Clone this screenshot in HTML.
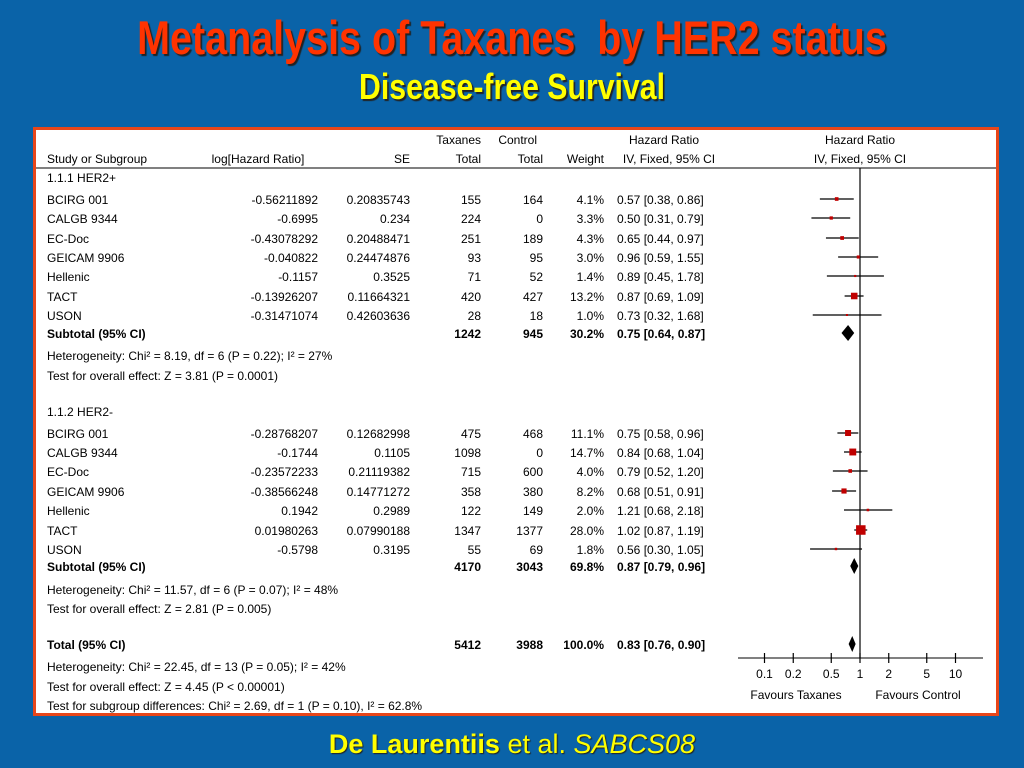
<!DOCTYPE html>
<html><head><meta charset="utf-8"><style>
body{margin:0;width:1024px;height:768px;overflow:hidden;background:#0a63a8;font-family:"Liberation Sans",sans-serif;position:relative}
.t{position:absolute;white-space:nowrap}
#title{left:0;width:1024px;text-align:center;top:10px;font-size:47px;font-weight:bold;color:#ff3300;text-shadow:2px 2px 1px #222;transform:scaleX(0.84)}
#sub{left:0;width:1024px;text-align:center;top:66px;font-size:36px;font-weight:bold;color:#ffff00;text-shadow:2px 2px 1px #222;transform:scaleX(0.84)}
#panel{position:absolute;left:33px;top:127px;width:960px;height:583px;background:#fff;border:3px solid #e8461a}
#foot{left:0;width:1024px;text-align:center;top:729px;font-size:27px;color:#ffff00;text-shadow:1px 1px 1px #222}
svg text{font-family:"Liberation Sans",sans-serif;font-size:12px;fill:#000}
</style></head><body>
<div class="t" id="title">Metanalysis of Taxanes&nbsp; by HER2 status</div>
<div class="t" id="sub">Disease-free Survival</div>
<div id="panel"></div>
<svg id="plot" width="1024" height="768" style="position:absolute;left:0;top:0"></svg>
<div class="t" id="foot"><b>De Laurentiis</b> et al. <i>SABCS08</i></div>
<script>
const studies=["BCIRG 001","CALGB 9344","EC-Doc","GEICAM 9906","Hellenic","TACT","USON","BCIRG 001","CALGB 9344","EC-Doc","GEICAM 9906","Hellenic","TACT","USON"];
const logHR=["-0.56211892","-0.6995","-0.43078292","-0.040822","-0.1157","-0.13926207","-0.31471074","-0.28768207","-0.1744","-0.23572233","-0.38566248","0.1942","0.01980263","-0.5798"];
const seVals=["0.20835743","0.234","0.20488471","0.24474876","0.3525","0.11664321","0.42603636","0.12682998","0.1105","0.21119382","0.14771272","0.2989","0.07990188","0.3195"];
const taxN=[155,224,251,93,71,420,28,475,1098,715,358,122,1347,55];
const ctrlN=[164,0,189,95,52,427,18,468,0,600,380,149,1377,69];
const weights=[4.1,3.3,4.3,3.0,1.4,13.2,1.0,11.1,14.7,4.0,8.2,2.0,28.0,1.8];
const hr=[0.57,0.50,0.65,0.96,0.89,0.87,0.73,0.75,0.84,0.79,0.68,1.21,1.02,0.56];
const lo=[0.38,0.31,0.44,0.59,0.45,0.69,0.32,0.58,0.68,0.52,0.51,0.68,0.87,0.30];
const hi=[0.86,0.79,0.97,1.55,1.78,1.09,1.68,0.96,1.04,1.20,0.91,2.18,1.19,1.05];
const sumLabels=["Subtotal (95% CI)","Subtotal (95% CI)","Total (95% CI)"];
const sumTax=[1242,4170,5412], sumCtrl=[945,3043,3988], sumW=["30.2%","69.8%","100.0%"];
const sumHR=[0.75,0.87,0.83], sumLo=[0.64,0.79,0.76], sumHi=[0.87,0.96,0.90];
const ticks=[0.1,0.2,0.5,1,2,5,10];
const NS="http://www.w3.org/2000/svg", svg=document.getElementById('plot');
const xs=v=>860+95.5*Math.log10(v);
function el(tag,attrs,txt){const e=document.createElementNS(NS,tag);for(const k in attrs)e.setAttribute(k,attrs[k]);if(txt!=null)e.textContent=txt;svg.appendChild(e);return e;}
function txt(x,y,s,anchor,bold,name){const e=el('text',{x:x,y:y,'text-anchor':anchor||'start','font-weight':bold?'bold':'normal'},s);

return e;}
const f2=v=>v.toFixed(2);
txt(481,144,"Taxanes","end",false,"header-taxanes");txt(537,144,"Control","end",false,"header-control");
txt(664,144,"Hazard Ratio","middle",false,"header-hr");txt(860,144,"Hazard Ratio","middle",false,"header-hr-plot");
txt(47,163,"Study or Subgroup","start",false,"header-study");txt(258,163,"log[Hazard Ratio]","middle",false,"header-loghr");
txt(410,163,"SE","end",false,"header-se");txt(481,163,"Total","end",false,"header-total");txt(543,163,"Total","end",false,"header-total");
txt(604,163,"Weight","end",false,"header-weight");txt(669,163,"IV, Fixed, 95% CI","middle",false,"header-ci");txt(860,163,"IV, Fixed, 95% CI","middle",false,"header-ci-plot");
let hl=el('line',{x1:36,x2:996,y1:168,y2:168,stroke:'#000','stroke-width':1});


txt(47,182,"1.1.1 HER2+","start",false,"group-heading");
txt(47,416,"1.1.2 HER2-","start",false,"group-heading");
const rowY=[204,223,243,262,281,301,320,438,457,476,496,515,535,554];
const sumY=[338,571,649];
let nl=el('line',{x1:860,x2:860,y1:168,y2:658,stroke:'#000','stroke-width':1.2});


studies.forEach((s,i)=>{const y=rowY[i];
txt(47,y,s,"start",false,"study-name");txt(318,y,logHR[i],"end",false,"log-hr");txt(410,y,seVals[i],"end",false,"se");
txt(481,y,taxN[i],"end",false,"taxanes-total");txt(543,y,ctrlN[i],"end",false,"control-total");
txt(604,y,weights[i].toFixed(1)+"%","end",false,"weight");txt(617,y,f2(hr[i])+" ["+f2(lo[i])+", "+f2(hi[i])+"]","start",false,"hr-ci");
const cy=y-5;
const l=el('line',{x1:xs(lo[i]),x2:xs(hi[i]),y1:cy,y2:cy,stroke:'#000','stroke-width':1.2});


const sz=Math.max(2,Math.sqrt(weights[i])*1.8);
const r=el('rect',{x:xs(hr[i])-sz/2,y:cy-sz/2,width:sz,height:sz,fill:'#c00000'});


});
sumLabels.forEach((s,i)=>{const y=sumY[i];
txt(47,y,s,"start",true,"subtotal-label");txt(481,y,sumTax[i],"end",true,"subtotal-taxanes");txt(543,y,sumCtrl[i],"end",true,"subtotal-control");
txt(604,y,sumW[i],"end",true,"subtotal-weight");txt(617,y,f2(sumHR[i])+" ["+f2(sumLo[i])+", "+f2(sumHi[i])+"]","start",true,"subtotal-hr");
const cy=y-5,a=xs(sumLo[i]),b=xs(sumHi[i]),c=xs(sumHR[i]);
const d=el('polygon',{points:`${a},${cy} ${c},${cy-8} ${b},${cy} ${c},${cy+8}`,fill:'#000'});


});
const notes=[[360,"Heterogeneity: Chi² = 8.19, df = 6 (P = 0.22); I² = 27%"],[380,"Test for overall effect: Z = 3.81 (P = 0.0001)"],
[594,"Heterogeneity: Chi² = 11.57, df = 6 (P = 0.07); I² = 48%"],[613,"Test for overall effect: Z = 2.81 (P = 0.005)"],
[671,"Heterogeneity: Chi² = 22.45, df = 13 (P = 0.05); I² = 42%"],[691,"Test for overall effect: Z = 4.45 (P < 0.00001)"],
[710,"Test for subgroup differences: Chi² = 2.69, df = 1 (P = 0.10), I² = 62.8%"]];
notes.forEach(n=>txt(47,n[0],n[1],"start",false,"stat-note"));
const ax=el('line',{x1:738,x2:983,y1:658,y2:658,stroke:'#000','stroke-width':1});


ticks.forEach(t=>{const x=xs(t);
const tk=el('line',{x1:x,x2:x,y1:653,y2:663,stroke:'#000','stroke-width':1.2});


txt(x,678,String(t),"middle",false,"x-tick-label");});
txt(796,699,"Favours Taxanes","middle",false,"favours-taxanes");txt(918,699,"Favours Control","middle",false,"favours-control");
</script>
</body></html>
